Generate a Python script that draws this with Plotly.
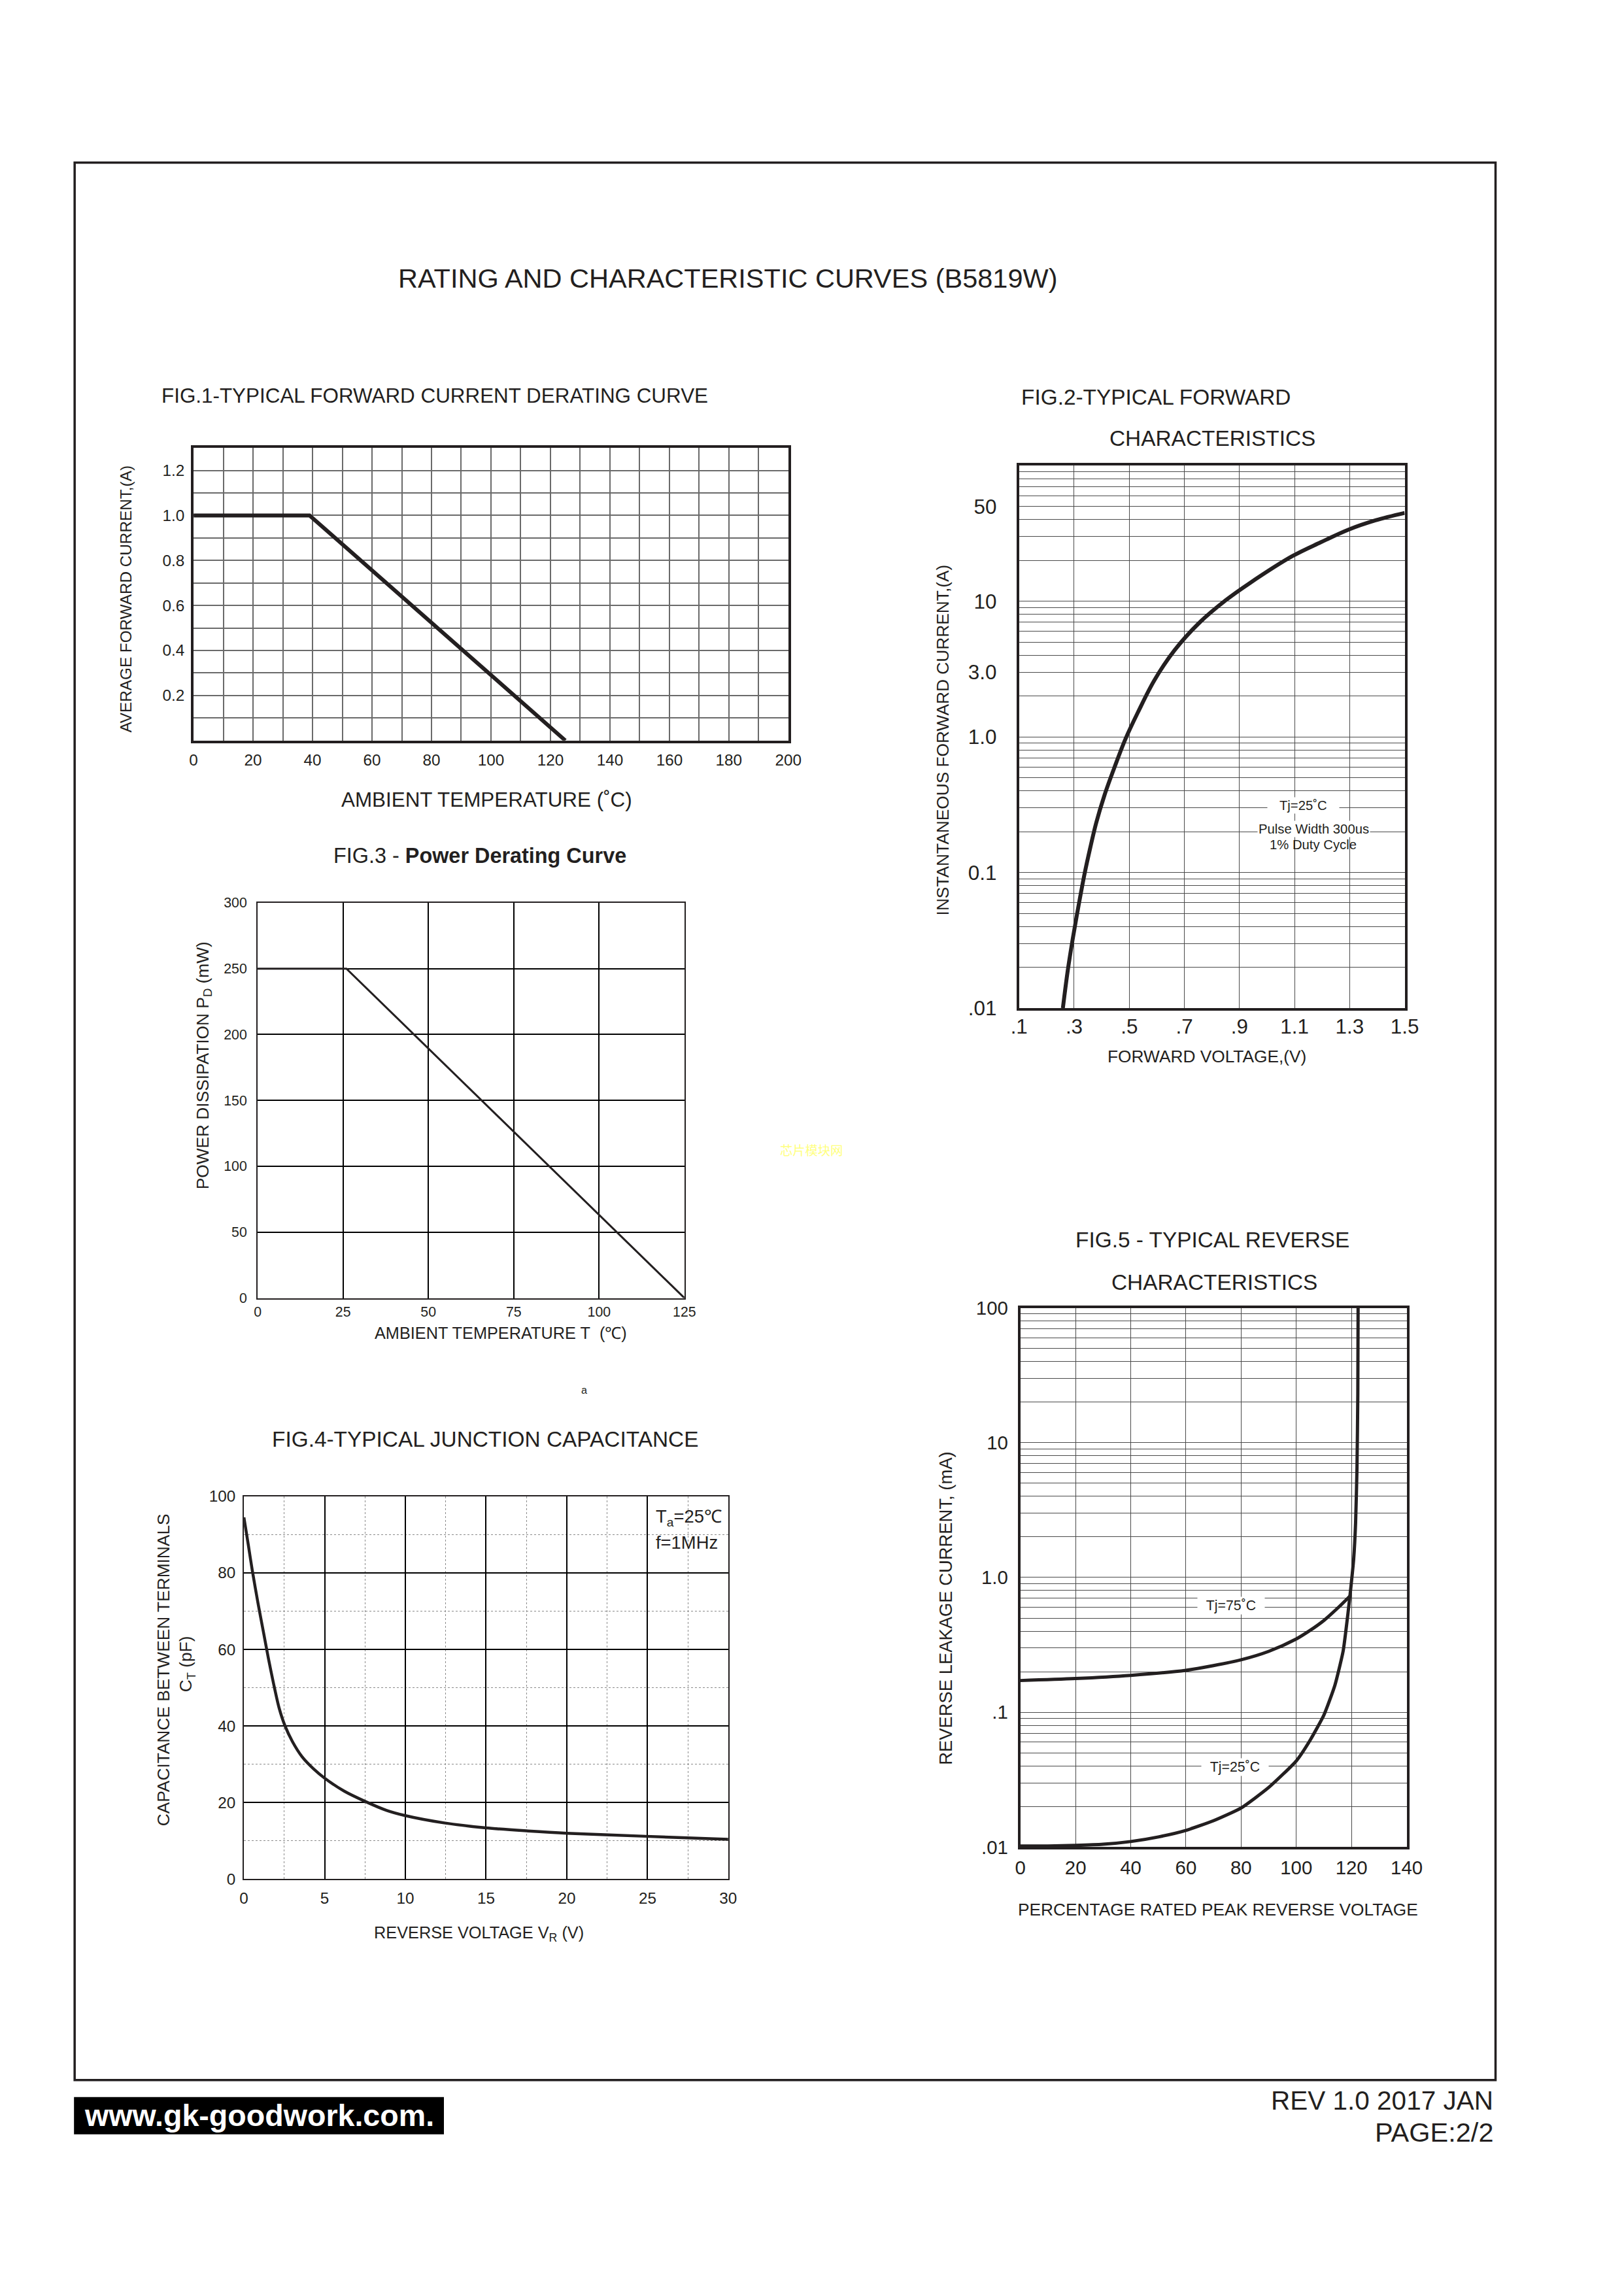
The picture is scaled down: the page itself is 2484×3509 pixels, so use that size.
import plotly.graph_objects as go

# ---------------- data ----------------
fig1_temp = [0, 39, 125]
fig1_current = [1.0, 1.0, 0.0]
fig1_xticks = [0, 20, 40, 60, 80, 100, 120, 140, 160, 180, 200]
fig1_yticks = [0.2, 0.4, 0.6, 0.8, 1.0, 1.2]
fig1_yticktext = ["0.2", "0.4", "0.6", "0.8", "1.0", "1.2"]

fig2_voltage = [0.259, 0.277, 0.2955, 0.316, 0.338, 0.358, 0.380, 0.410, 0.446, 0.486, 0.531,
                0.591, 0.664, 0.754, 0.851, 0.935, 1.092, 1.195, 1.297, 1.394, 1.5]
fig2_current = [0.01, 0.0191, 0.033, 0.057, 0.0984, 0.151, 0.232, 0.371, 0.593, 0.962, 1.51,
                2.61, 4.34, 6.93, 10.2, 13.5, 21.5, 27.2, 33.8, 39.5, 44.8]
fig2_xticks = [0.1, 0.3, 0.5, 0.7, 0.9, 1.1, 1.3, 1.5]
fig2_xticktext = [".1", ".3", ".5", ".7", ".9", "1.1", "1.3", "1.5"]
fig2_yticks = [0.01, 0.1, 1, 3, 10, 50]
fig2_yticktext = [".01", "0.1", "1.0", "3.0", "10", "50"]

fig3_temp = [0, 26, 125]
fig3_power = [250, 250, 0]
fig3_xticks = [0, 25, 50, 75, 100, 125]
fig3_yticks = [0, 50, 100, 150, 200, 250, 300]

fig4_voltage = [0, 0.28, 0.52, 0.88, 1.23, 1.52, 1.83, 2.18, 2.54, 3.01, 3.6, 4.32, 5.03, 6.21,
                7.52, 8.82, 10.0, 12.4, 15.0, 17.6, 20.0, 24.9, 30]
fig4_cap = [94.5, 87.1, 80.6, 71.9, 64.1, 57.6, 51.2, 44.7, 40.1, 35.9, 32.0, 28.8, 26.3, 23.0,
            20.3, 18.0, 16.6, 14.7, 13.4, 12.6, 12.0, 11.2, 10.4]
fig4_xticks = [0, 5, 10, 15, 20, 25, 30]
fig4_yticks = [0, 20, 40, 60, 80, 100]

fig5_pct_75 = [0, 20, 40, 60, 70, 80, 90, 100, 105, 110, 115, 119.5]
fig5_ir_75 = [0.172, 0.178, 0.188, 0.205, 0.222, 0.245, 0.283, 0.350, 0.405, 0.48, 0.593, 0.73]
fig5_pct_25 = [0, 10, 20, 30, 40, 50, 60, 70, 80, 90, 100, 105, 110, 114, 117, 118.7, 119.8,
               120.8, 121.5, 122.0, 122.3, 122.4]
fig5_ir_25 = [0.0102, 0.0102, 0.0103, 0.0105, 0.0110, 0.0119, 0.0133, 0.0157, 0.0195, 0.0277,
              0.0436, 0.062, 0.0953, 0.159, 0.286, 0.535, 0.85, 1.37, 2.55, 6.5, 23, 100]
fig5_xticks = [0, 20, 40, 60, 80, 100, 120, 140]
fig5_yticks = [0.01, 0.1, 1, 10, 100]
fig5_yticktext = [".01", ".1", "1.0", "10", "100"]

# ---------------- page geometry ----------------
W, H = 2484, 3509
FONT = "Liberation Sans, Arial, Helvetica, sans-serif"
INK = "#231f20"

# the photographed page comes out slightly shrunk with an offset; compensate
SX, BX = 0.985, 11.8
SY, BY = 0.989, 16.5
FS = 1.0 / 0.987


def fx(p):
    return ((p - BX) / SX) / W


def fy(p):
    return 1 - ((p - BY) / SY) / H


def fs(s):
    return round(s * FS, 1)


log_minor = [k * 10 ** n for n in range(-2, 2) for k in range(2, 10)]

fig = go.Figure()

fig.add_trace(go.Scatter(x=fig1_temp, y=fig1_current, xaxis="x", yaxis="y", mode="lines",
                         line=dict(color=INK, width=6)))
fig.add_trace(go.Scatter(x=fig2_voltage, y=fig2_current, xaxis="x2", yaxis="y2", mode="lines",
                         line=dict(color=INK, width=6, shape="spline", smoothing=1.0)))
fig.add_trace(go.Scatter(x=fig3_temp, y=fig3_power, xaxis="x3", yaxis="y3", mode="lines",
                         line=dict(color=INK, width=3)))
fig.add_trace(go.Scatter(x=fig4_voltage, y=fig4_cap, xaxis="x4", yaxis="y4", mode="lines",
                         line=dict(color=INK, width=4.5, shape="spline", smoothing=0.8)))
fig.add_trace(go.Scatter(x=fig5_pct_75, y=fig5_ir_75, xaxis="x5", yaxis="y5", mode="lines",
                         line=dict(color=INK, width=5, shape="spline", smoothing=0.8)))
fig.add_trace(go.Scatter(x=fig5_pct_25, y=fig5_ir_25, xaxis="x5", yaxis="y5", mode="lines",
                         line=dict(color=INK, width=5, shape="spline", smoothing=0.5)))


def ax(domain, rng, anchor, size, lw, gc, gw, standoff, **kw):
    d = dict(domain=domain, range=rng, anchor=anchor, showline=True, mirror=True,
             linecolor=INK, linewidth=lw, ticks="", zeroline=False, showgrid=True,
             gridcolor=gc, gridwidth=gw, ticklabelstandoff=standoff,
             tickfont=dict(family=FONT, size=fs(size), color=INK), fixedrange=True)
    d.update(kw)
    return d


GRID1 = "#6a6a6a"
GRIDLOG = "#4a4a4a"

fig.update_layout(
    width=W, height=H, margin=dict(l=0, r=0, t=0, b=0),
    paper_bgcolor="white", plot_bgcolor="white", showlegend=False,
    font=dict(family=FONT, color=INK),
    # FIG 1
    xaxis=ax([fx(295), fx(1205)], [0, 200], "y", 24, 4, GRID1, 1.5, 5,
             tickmode="array", tickvals=fig1_xticks, ticktext=[str(v) for v in fig1_xticks],
             minor=dict(dtick=10, tick0=0, showgrid=True, gridcolor=GRID1, gridwidth=1.5)),
    yaxis=ax([fy(1131), fy(684)], [0, 1.3], "x", 24, 4, GRID1, 1.5, 5,
             tickmode="array", tickvals=fig1_yticks, ticktext=fig1_yticktext,
             minor=dict(dtick=0.1, tick0=0, showgrid=True, gridcolor=GRID1, gridwidth=1.5)),
    # FIG 2
    xaxis2=ax([fx(1558), fx(2148)], [0.1, 1.5], "y2", 31, 4, GRIDLOG, 1.3, -3,
              tickmode="array", tickvals=fig2_xticks, ticktext=fig2_xticktext),
    yaxis2=ax([fy(1540), fy(711)], [-2, 2], "x2", 31, 4, GRIDLOG, 1.3, 24, type="log",
              tickmode="array", tickvals=fig2_yticks, ticktext=fig2_yticktext,
              minor=dict(tickmode="array", tickvals=log_minor, showgrid=True,
                         gridcolor=GRIDLOG, gridwidth=1.3)),
    # FIG 3
    xaxis3=ax([fx(393), fx(1046)], [0, 125], "y3", 21, 2, "black", 1.6, 1,
              tickmode="array", tickvals=fig3_xticks),
    yaxis3=ax([fy(1983), fy(1379)], [0, 300], "x3", 21, 2, "black", 1.6, 10,
              tickmode="array", tickvals=fig3_yticks),
    # FIG 4
    xaxis4=ax([fx(372), fx(1113)], [0, 30], "y4", 24, 2, "black", 1.6, 6,
              tickmode="array", tickvals=fig4_xticks,
              minor=dict(dtick=2.5, tick0=0, showgrid=True, gridcolor="#8a8a8a",
                         gridwidth=1.2, griddash="dot")),
    yaxis4=ax([fy(2871), fy(2286)], [0, 100], "x4", 24, 2, "black", 1.6, 6,
              tickmode="array", tickvals=fig4_yticks,
              minor=dict(dtick=10, tick0=0, showgrid=True, gridcolor="#8a8a8a",
                         gridwidth=1.2, griddash="dot")),
    # FIG 5
    xaxis5=ax([fx(1560), fx(2151)], [0, 140], "y5", 29, 4, GRIDLOG, 1.3, 2,
              tickmode="array", tickvals=fig5_xticks),
    yaxis5=ax([fy(2822), fy(1998)], [-2, 2], "x5", 29, 4, GRIDLOG, 1.3, 9, type="log",
              tickmode="array", tickvals=fig5_yticks, ticktext=fig5_yticktext,
              minor=dict(tickmode="array", tickvals=log_minor, showgrid=True,
                         gridcolor=GRIDLOG, gridwidth=1.3)),
)


def note(text, x, y, size, xanchor="center", angle=0, color=INK, bg=None, family=FONT, pad=1):
    a = dict(text=text, x=fx(x), y=fy(y), xref="paper", yref="paper", showarrow=False,
             xanchor=xanchor, yanchor="middle", textangle=angle, borderpad=pad,
             font=dict(family=family, size=fs(size), color=color))
    if bg:
        a["bgcolor"] = bg
    fig.add_annotation(**a)


NB = "\u00a0"
# page title
note("RATING AND CHARACTERISTIC CURVES (B5819W)", 1112, 425, 41)
# fig 1
note("FIG.1-TYPICAL FORWARD CURRENT DERATING CURVE", 244, 604, 31, xanchor="left")
note("AMBIENT TEMPERATURE (\u02daC)", 744, 1222, 31)
note("AVERAGE FORWARD CURRENT,(A)", 191, 915, 24, angle=-90)
# fig 2
note("FIG.2-TYPICAL FORWARD", 1559, 606, 33, xanchor="left")
note("CHARACTERISTICS", 1854, 669, 33)
note("INSTANTANEOUS FORWARD CURRENT,(A)", 1441, 1130, 26, angle=-90)
note("FORWARD VOLTAGE,(V)", 1845, 1614, 26)
note(NB * 3 + "Tj=25\u02daC" + NB * 3, 1993, 1230, 20, bg="white")
note("Pulse Width 300us", 2009, 1266, 20, bg="white")
note("1% Duty Cycle", 2008, 1290, 20)
# fig 3
note("FIG.3 - <b>Power Derating Curve</b>", 733, 1307, 32)
note("POWER DISSIPATION P<sub>D</sub> (mW)", 311, 1628, 26, angle=-90)
note("AMBIENT TEMPERATURE T" + NB * 2 + "(\u2103)", 765, 2036, 25)
note("a", 893, 2123, 16)
# fig 4
note("FIG.4-TYPICAL JUNCTION CAPACITANCE", 741, 2199, 33)
note("CAPACITANCE BETWEEN TERMINALS", 249, 2551, 26, angle=-90)
note("C<sub>T</sub> (pF)", 285, 2542, 26, angle=-90)
note("REVERSE VOLTAGE V<sub>R</sub> (V)", 732, 2954, 25)
note("T<sub>a</sub>=25\u2103", 1000, 2319, 27, xanchor="left")
note("f=1MHz", 1000, 2357, 27, xanchor="left")
# fig 5
note("FIG.5 - TYPICAL REVERSE", 1854, 1894, 33)
note("CHARACTERISTICS", 1857, 1959, 33)
note("REVERSE LEAKAGE CURRENT, (mA)", 1445, 2457, 27, angle=-90)
note("PERCENTAGE RATED PEAK REVERSE VOLTAGE", 1862, 2917, 26)
note(NB * 2 + "Tj=75\u02daC" + NB * 2, 1882, 2453, 21, bg="white")
note(NB * 2 + "Tj=25\u02daC" + NB * 2, 1888, 2700, 21, bg="white")
# watermark
note("芯片模块网", 1240, 1757, 19, color="#ffff80", family="Noto Sans CJK SC")
# footer
note("REV 1.0 2017 JAN", 2285, 3209, 40, xanchor="right")
note("PAGE:2/2", 2285, 3258, 41, xanchor="right")
note("<b>www.gk-goodwork.com.</b>", 395, 3232, 46, color="white")

# page frame and footer box
fig.add_shape(type="rect", xref="paper", yref="paper", x0=fx(113), x1=fx(2287), y0=fy(3178), y1=fy(248),
              line=dict(color=INK, width=3.5), layer="below")
fig.add_shape(type="rect", xref="paper", yref="paper", x0=fx(112), x1=fx(678), y0=fy(3261), y1=fy(3204),
              line=dict(width=0), fillcolor="black", layer="below")

post = ("var gd=document.getElementById('{plot_id}');"
        "document.documentElement.style.margin='0';document.body.style.margin='0';"
        "document.documentElement.style.overflow='hidden';document.body.style.overflow='hidden';"
        "gd.style.position='fixed';gd.style.left='0px';gd.style.top='0px';")

fig.write_html("out.html", include_plotlyjs=True, full_html=True,
               config={"displayModeBar": False}, post_script=post)
